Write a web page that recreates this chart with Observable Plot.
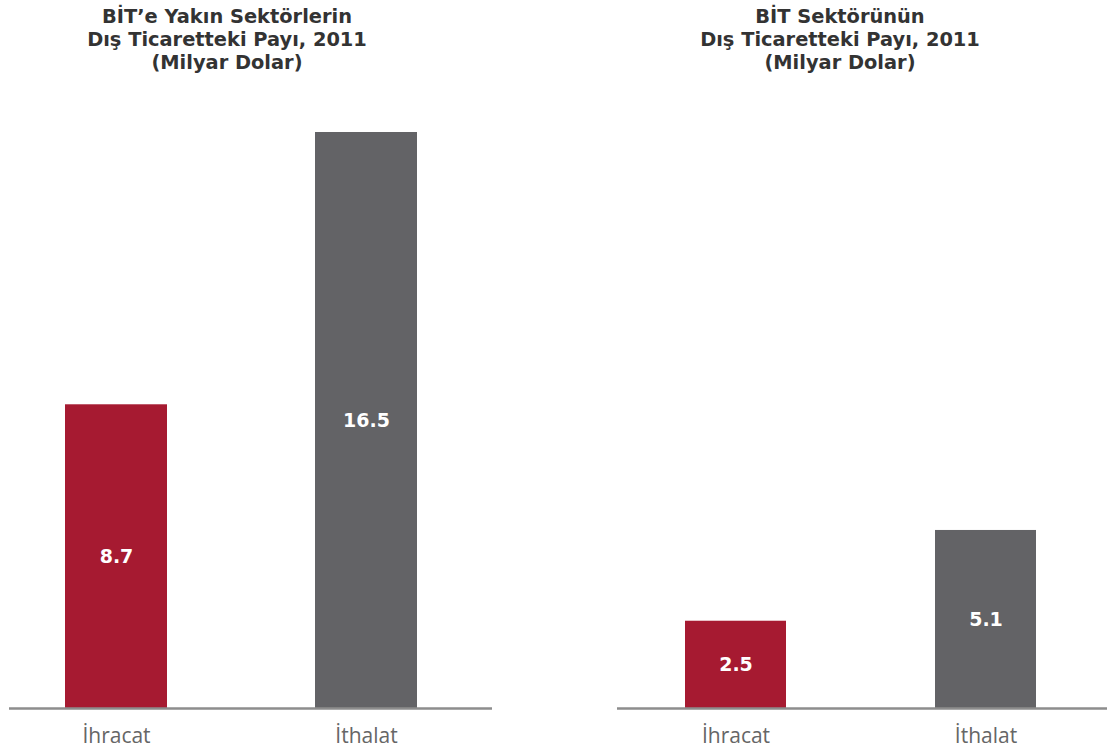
<!DOCTYPE html>
<html>
<head>
<meta charset="utf-8">
<script src="https://cdn.jsdelivr.net/npm/d3@7"></script>
<script src="https://cdn.jsdelivr.net/npm/@observablehq/plot@0.6"></script>
<style>
  body { margin: 0; background: #fff; }
  #wrap { position: relative; width: 1107px; height: 749px; overflow: hidden; background: #fff; }
  .title { position: absolute; top: 5px; width: 420px; text-align: center;
           font-family: "DejaVu Sans", sans-serif; font-weight: 700; font-size: 19.4px;
           line-height: 23px; color: #333; }
  .panel { position: absolute; top: 0; }
</style>
</head>
<body>
<div id="wrap">
  <div class="title" id="t1" style="left:17px"></div>
  <div class="title" id="t2" style="left:630px"></div>
  <div class="panel" id="p1" style="left:0px"></div>
  <div class="panel" id="p2" style="left:560px"></div>
</div>
<script>
// ---- data ----
const categories = ["İhracat", "İthalat"];
const nearSectorValues = [8.7, 16.5];   // BİT'e Yakın Sektörler
const bitSectorValues = [2.5, 5.1];     // BİT Sektörü
const titleLeft = ["BİT’e Yakın Sektörlerin", "Dış Ticaretteki Payı, 2011", "(Milyar Dolar)"];
const titleRight = ["BİT Sektörünün", "Dış Ticaretteki Payı, 2011", "(Milyar Dolar)"];
const barColors = ["#a61a31", "#636366"];

document.getElementById("t1").innerHTML = titleLeft.join("<br>");
document.getElementById("t2").innerHTML = titleRight.join("<br>");

const fmt = d3.format(".1f");

function panel(values, opts) {
  const data = categories.map((c, i) => ({cat: c, value: values[i]}));
  return Plot.plot({
    width: opts.width,
    height: 749,
    marginLeft: opts.marginLeft,
    marginRight: opts.marginRight,
    marginTop: 132,
    marginBottom: 41,
    style: {background: "transparent", overflow: "visible"},
    x: {domain: categories, range: opts.xRange, paddingInner: opts.pi, paddingOuter: opts.po, label: null},
    y: {domain: [0, 16.5], axis: null},
    color: {domain: categories, range: barColors},
    marks: [
      Plot.barY(data, {x: "cat", y: "value", fill: "cat"}),
      Plot.text(data, {
        x: "cat", y: d => d.value / 2, text: d => fmt(d.value),
        fill: "white", fontWeight: "bold", fontSize: 19, fontFamily: "DejaVu Sans"
      }),
      Plot.ruleY([0], {stroke: "#8d8d8d", strokeWidth: 2.5}),
      Plot.axisX({
        tickSize: 0, tickPadding: 20, fontSize: 21, fill: "#666",
        fontFamily: "Open Sans", label: null
      })
    ]
  });
}

document.getElementById("p1").appendChild(
  panel(nearSectorValues, {width: 500, marginLeft: 9, marginRight: 8, xRange: [9, 473], pi: 0.592, po: 0.224})
);
document.getElementById("p2").appendChild(
  panel(bitSectorValues, {width: 547, marginLeft: 57, marginRight: 0, xRange: [57, 543], pi: 0.596, po: 0.267})
);
</script>
</body>
</html>
